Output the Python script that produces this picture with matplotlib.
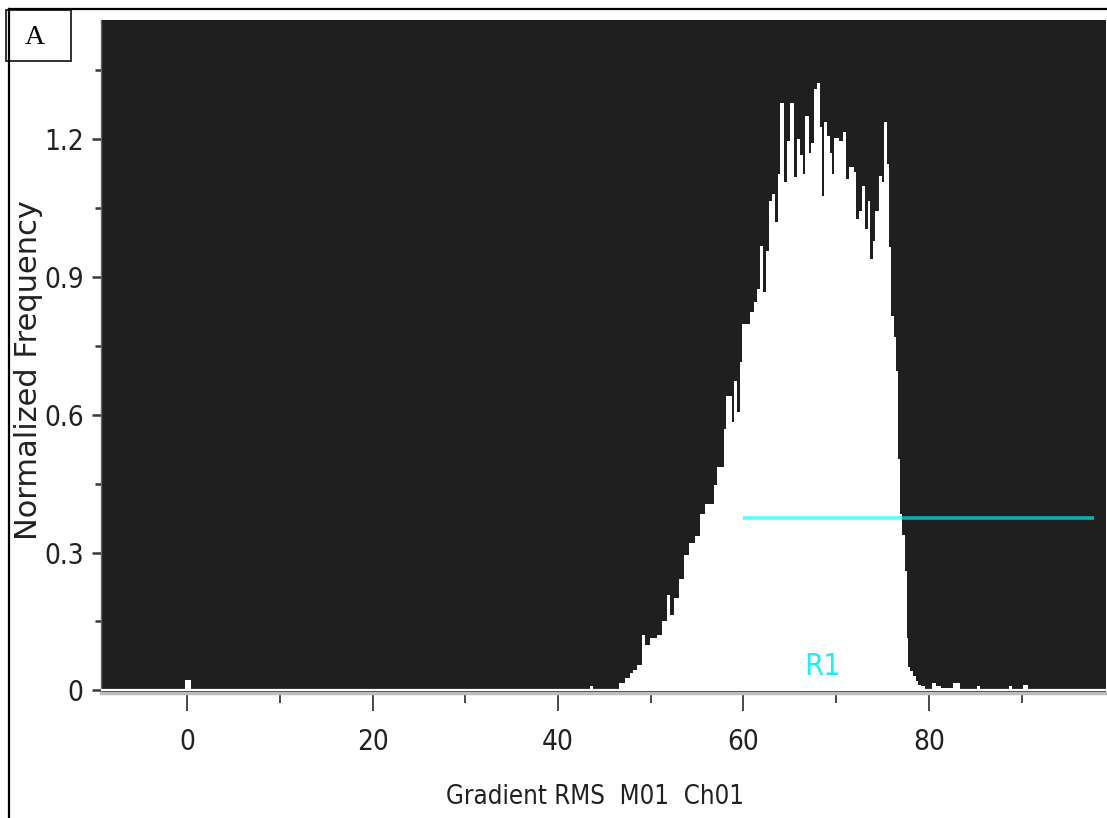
"""Gradient RMS histogram (panel A) with R1 gate line."""
import matplotlib
matplotlib.use("Agg")
import matplotlib.pyplot as plt
from matplotlib.lines import Line2D
from matplotlib.patches import Rectangle
from matplotlib.ticker import FixedLocator

# histogram bin edges (Gradient RMS) and normalized frequencies
bin_edges = [
    -0.22, 0.40, 43.47, 43.83, 46.53, 47.25, 47.79, 48.14, 48.51, 49.05,
    49.41, 49.95, 50.67, 51.21, 51.75, 52.10, 52.46, 53.00, 53.54, 54.08,
    54.80, 55.34, 55.88, 56.78, 57.14, 57.86, 58.14, 58.76, 58.94, 59.30,
    59.58, 59.84, 60.73, 61.09, 61.46, 61.74, 62.10, 62.46, 62.71, 63.07,
    63.43, 63.68, 63.97, 64.40, 64.69, 65.05, 65.48, 65.77, 66.13, 66.42,
    66.67, 67.02, 67.28, 67.64, 67.93, 68.21, 68.47, 68.64, 69.00, 69.29,
    69.55, 69.80, 70.26, 70.73, 71.09, 71.34, 71.88, 72.17, 72.42, 72.78,
    73.14, 73.39, 73.68, 73.97, 74.22, 74.58, 74.94, 75.19, 75.48, 75.73,
    75.91, 76.19, 76.41, 76.62, 76.91, 77.15, 77.40, 77.60, 77.80, 78.00,
    78.30, 78.60, 78.85, 79.20, 79.60, 80.30, 80.80, 81.30, 82.60, 83.40,
    85.20, 85.50, 88.60, 89.00, 90.20, 90.70,
]
frequency = [
    0.022, 0.0, 0.010, 0.002, 0.015, 0.026, 0.037, 0.044, 0.055,
    0.120, 0.098, 0.113, 0.120, 0.150, 0.207, 0.164, 0.200, 0.243, 0.294,
    0.320, 0.337, 0.385, 0.406, 0.446, 0.487, 0.570, 0.640, 0.585, 0.674,
    0.606, 0.715, 0.798, 0.824, 0.845, 0.874, 0.968, 0.867, 0.957, 1.065,
    1.080, 1.020, 1.124, 1.280, 1.107, 1.196, 1.280, 1.117, 1.200, 1.167,
    1.124, 1.250, 1.170, 1.193, 1.309, 1.323, 1.226, 1.076, 1.237, 1.207,
    1.170, 1.124, 1.204, 1.196, 1.217, 1.113, 1.139, 1.128, 1.026, 1.043,
    1.098, 1.004, 1.065, 0.939, 0.978, 1.043, 1.120, 1.107, 1.237, 1.146,
    0.965, 0.815, 0.770, 0.696, 0.504, 0.385, 0.339, 0.259, 0.113, 0.050,
    0.041, 0.030, 0.020, 0.011, 0.009, 0.003, 0.015, 0.009, 0.004, 0.015,
    0.003, 0.010, 0.002, 0.010, 0.002, 0.012,
]

# R1 gate
gate_x = [60.0, 97.85]
gate_y = 0.376
gate_name = "R1"
gate_label_pos = (68.5, 0.051)

x_major = [0, 20, 40, 60, 80]
x_minor = [10, 30, 50, 70, 90]
y_major = [0, 0.3, 0.6, 0.9, 1.2]
y_minor = [0.15, 0.45, 0.75, 1.05, 1.35]
y_tick_labels = ["0", "0.3", "0.6", "0.9", "1.2"]

NARROW = ["Liberation Sans Narrow", "DejaVu Sans"]

fig = plt.figure(figsize=(11.07, 8.18), dpi=100)
W, H = 1107, 818
ax = fig.add_axes([101 / W, 1 - 693 / H, 1005 / W, 673 / H])
ax.set_facecolor("#1f1f1f")

ax.stairs(frequency, bin_edges, fill=True, color="white", lw=0)
ax.axhline(0, color="white", lw=1.6, zorder=3)
ax.plot(gate_x, [gate_y, gate_y], color=(0, 1, 1), alpha=0.65, lw=2.6,
        solid_capstyle="butt", zorder=4)
ax.text(*gate_label_pos, gate_name, color="#22eeee", fontsize=22,
        family=NARROW, stretch="condensed", ha="center", va="center", zorder=5)

ax.set_xlim(-9.28, 99.1)
ax.set_ylim(-0.006, 1.46)

ax.xaxis.set_major_locator(FixedLocator(x_major))
ax.xaxis.set_minor_locator(FixedLocator(x_minor))
ax.yaxis.set_major_locator(FixedLocator(y_major))
ax.yaxis.set_minor_locator(FixedLocator(y_minor))
ax.set_yticklabels(y_tick_labels)

ax.tick_params(axis="x", which="major", length=13, width=1.3, color="#3a3a3a",
               pad=12, labelsize=20, labelcolor="#222222")
ax.tick_params(axis="x", which="minor", length=7, width=1.3, color="#3a3a3a")
ax.tick_params(axis="y", which="major", length=6.5, width=1.8, color="#3a3a3a",
               pad=6, labelsize=20, labelcolor="#222222")
ax.tick_params(axis="y", which="minor", length=4.3, width=1.8, color="#3a3a3a")
for lab in ax.get_xticklabels() + ax.get_yticklabels():
    lab.set_family(NARROW)
    lab.set_stretch("condensed")

for side in ("top", "right"):
    ax.spines[side].set_visible(False)
ax.spines["left"].set_color("#666666")
ax.spines["left"].set_linewidth(1.0)
ax.spines["bottom"].set_color("#bdbdbd")
ax.spines["bottom"].set_linewidth(2.5)

ax.set_xlabel("Gradient RMS  M01  Ch01", fontsize=18.5, family=NARROW,
              stretch="condensed", color="#222222")
ax.xaxis.set_label_coords(0.4915, -0.135)
ax.set_ylabel("Normalized Frequency", fontsize=22, family="DejaVu Sans", color="#222222")
ax.yaxis.set_label_coords(-0.0577, 0.48)

# outer frame and panel tag
fig.add_artist(Line2D([9 / W, 1.0], [1 - 9 / H, 1 - 9 / H], color="black", lw=1.6))
fig.add_artist(Line2D([9 / W, 9 / W], [0, 1 - 9 / H], color="black", lw=1.6))
fig.add_artist(Rectangle((6 / W, 1 - 61 / H), 65 / W, 51 / H, facecolor="white",
                         edgecolor="#222222", lw=1.3))
fig.text(35 / W, 1 - 37 / H, "A", fontsize=20, family="Liberation Serif",
         ha="center", va="center", color="black")

fig.savefig("out.png", dpi=100)
